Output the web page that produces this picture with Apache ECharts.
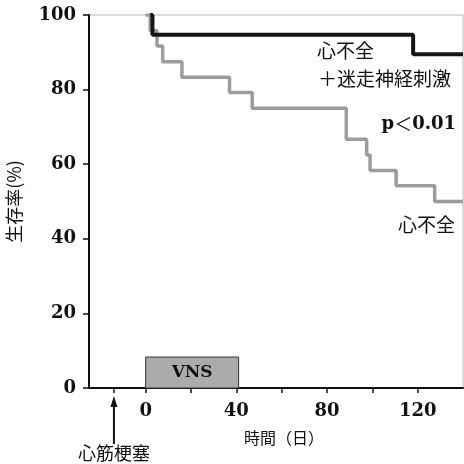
<!DOCTYPE html>
<html>
<head>
<meta charset="utf-8">
<script src="https://cdn.jsdelivr.net/npm/echarts@6/dist/echarts.min.js"></script>
<style>
  html, body { margin: 0; padding: 0; background: #fff; }
  #main { width: 464px; height: 464px; }
</style>
</head>
<body>
<div id="main"></div>
<script>
// 心不全（対照群）
const hfDays = [0, 2, 5, 7.5, 16, 37, 47, 88.5, 97.5, 99, 110.5, 127.5, 140];
const hfSurv = [100, 95.8, 91.7, 87.5, 83.3, 79.2, 75, 66.7, 62.5, 58.3, 54.2, 50, 50];
// 心不全＋迷走神経刺激
const vnsDays = [2, 3, 118, 140];
const vnsSurv = [100, 94.7, 89.5, 89.5];
// VNS 期間
const vnsPeriod = [0, 41];
const xTicks = [-14, 0, 20, 40, 60, 80, 100, 120];
const xLabels = [0, 40, 80, 120];
const miDay = -14;

const serif = '"DejaVu Serif", "Liberation Serif", serif';
const cjk = '"Noto Sans CJK JP", "Noto Sans", sans-serif';

const chart = echarts.init(document.getElementById('main'), null, { renderer: 'canvas' });

function zip(a, b) {
  return a.map((d, i) => [d, b[i]]);
}

const option = {
  animation: false,
  grid: {
    left: 89, right: 1, top: 15, bottom: 76,
    outerBoundsMode: 'none', containLabel: false,
    show: true, borderColor: '#b5b5b5', borderWidth: 1
  },
  xAxis: {
    type: 'value', min: -25, max: 140,
    axisLine: { show: true, onZero: false, lineStyle: { color: '#111', width: 2 } },
    axisTick: { show: true, customValues: xTicks, length: 5, lineStyle: { color: '#111', width: 1.5 } },
    axisLabel: {
      customValues: xLabels, margin: 14,
      fontFamily: serif, fontWeight: 'bold', fontSize: 18, color: '#111'
    },
    splitLine: { show: false }
  },
  yAxis: {
    type: 'value', min: 0, max: 100, interval: 20,
    name: '生存率(%)', nameLocation: 'middle', nameRotate: 90, nameGap: 66,
    nameTextStyle: { fontFamily: cjk, fontSize: 18, color: '#111' },
    axisLine: { show: true, onZero: false, lineStyle: { color: '#111', width: 2 } },
    axisTick: { show: true, length: 6, lineStyle: { color: '#111', width: 1.5 } },
    axisLabel: {
      margin: 13, fontFamily: serif, fontWeight: 'bold', fontSize: 18, color: '#111'
    },
    splitLine: { show: false }
  },
  series: [
    {
      name: '心不全',
      type: 'line', step: 'end', symbol: 'none',
      data: zip(hfDays, hfSurv),
      lineStyle: { color: '#9c9c9c', width: 3.5 },
      z: 2
    },
    {
      name: '心不全＋迷走神経刺激',
      type: 'line', step: 'end', symbol: 'none',
      data: zip(vnsDays, vnsSurv),
      lineStyle: { color: '#151515', width: 4 },
      z: 3,
      markArea: {
        silent: true,
        itemStyle: { color: '#ababab', borderColor: '#333', borderWidth: 1 },
        label: {
          show: true, position: 'inside', formatter: 'VNS',
          fontFamily: serif, fontWeight: 'bold', fontSize: 17, color: '#111'
        },
        data: [[{ coord: [vnsPeriod[0], 0] }, { coord: [vnsPeriod[1], 8.3] }]]
      }
    }
  ]
};

chart.setOption(option);

// 注記（心筋梗塞の矢印と凡例テキスト）
const mi = chart.convertToPixel({ gridIndex: 0 }, [miDay, 0]);
chart.setOption({
  graphic: [
    {
      type: 'line', silent: true,
      shape: { x1: mi[0], y1: mi[1] + 56, x2: mi[0], y2: mi[1] + 14 },
      style: { stroke: '#111', lineWidth: 2 }
    },
    {
      type: 'polygon', silent: true,
      shape: { points: [[mi[0], mi[1] + 8], [mi[0] - 3.5, mi[1] + 19], [mi[0] + 3.5, mi[1] + 19]] },
      style: { fill: '#111' }
    },
    {
      type: 'text', silent: true, x: mi[0], y: 453,
      style: { text: '心筋梗塞', fontFamily: cjk, fontSize: 18, fill: '#111', align: 'center', verticalAlign: 'middle' }
    },
    {
      type: 'text', silent: true, x: 284, y: 438,
      style: { text: '時間（日）', fontFamily: cjk, fontSize: 16, fill: '#111', align: 'center', verticalAlign: 'middle' }
    },
    {
      type: 'text', silent: true, x: 317, y: 51,
      style: { text: '心不全', fontFamily: cjk, fontSize: 19, fill: '#111', align: 'left', verticalAlign: 'middle' }
    },
    {
      type: 'text', silent: true, x: 318, y: 79,
      style: { text: '＋迷走神経刺激', fontFamily: cjk, fontSize: 19, fill: '#111', align: 'left', verticalAlign: 'middle' }
    },
    {
      type: 'text', silent: true, x: 456, y: 124,
      style: {
        text: 'p{c|＜}0.01', fontFamily: serif, fontWeight: 'bold', fontSize: 18, fill: '#111',
        align: 'right', verticalAlign: 'middle',
        rich: { c: { fontFamily: cjk, fontSize: 18, fill: '#111' } }
      }
    },
    {
      type: 'text', silent: true, x: 455, y: 225,
      style: { text: '心不全', fontFamily: cjk, fontSize: 19, fill: '#111', align: 'right', verticalAlign: 'middle' }
    }
  ]
});
</script>
</body>
</html>
